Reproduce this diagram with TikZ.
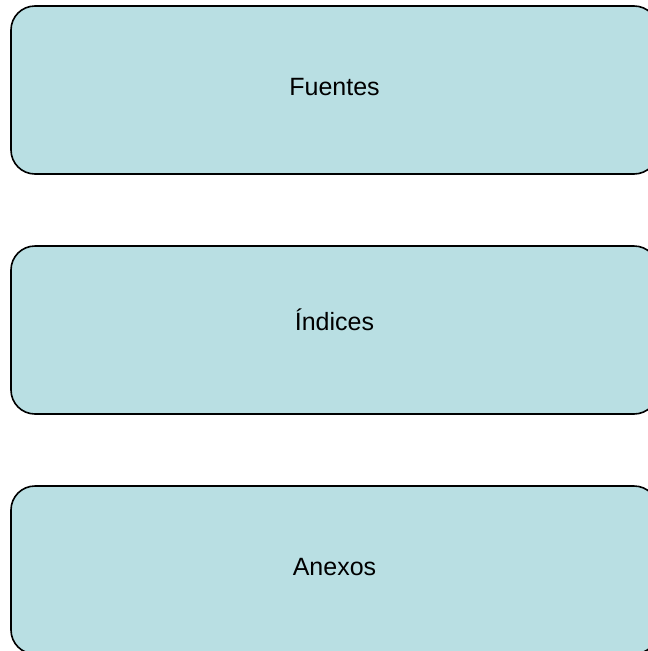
\documentclass[tikz,border=0pt]{standalone}
\usepackage{fontspec}
\setmainfont{Liberation Sans}
\definecolor{boxfill}{RGB}{185,223,227}

\begin{document}
\begin{tikzpicture}[x=1pt,y=1pt]
      \tikzset{
        node distance=240pt,
        every node/.style={rectangle,draw,line width=1.6pt,fill=boxfill,
          rounded corners=24pt,minimum width=647pt,minimum height=168pt,
          text height=18pt,text depth=8pt,
          font=\fontsize{25}{30}\selectfont}
      }
      \clip (0,0) rectangle (648,-651);
      \useasboundingbox (0,0) rectangle (648,-651);

      \node[] (fuentes) at (334.5,-90) {Fuentes};
      \node[below of=fuentes] (indices) {\raisebox{5pt}{Índices}};
      \node[below of=indices] (anexos) {Anexos};
    \end{tikzpicture}
\end{document}
